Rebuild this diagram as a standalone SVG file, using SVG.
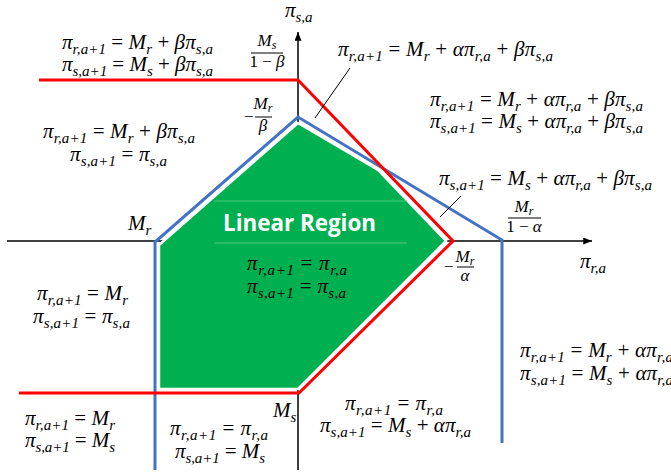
<svg xmlns="http://www.w3.org/2000/svg" width="671" height="474" viewBox="0 0 671 474">
<style>
.m{font-family:"Liberation Serif","DejaVu Serif",serif;font-style:italic;font-size:21px;fill:#000}
.b{font-size:15px}
.u{font-style:normal}
.f{font-family:"Liberation Serif","DejaVu Serif",serif;font-style:italic;font-size:17px;fill:#000}
.fs{font-size:12px}
.ax{stroke:#000;stroke-width:1.5;fill:none}
.fl{stroke:#000;stroke-width:1;fill:none}
.red{stroke:#ff0000;stroke-width:3;fill:none;stroke-linejoin:miter}
.blue{stroke:#4472c4;stroke-width:3;fill:none;stroke-linejoin:miter}
.ld{stroke:#000;stroke-width:1;fill:none}
</style>
<defs>
<marker id="ah" viewBox="0 0 10 8" refX="10" refY="4" markerWidth="9" markerHeight="7" markerUnits="userSpaceOnUse" orient="auto"><path d="M0,0 L10,4 L0,8 z" fill="#000"/></marker>
</defs>
<rect width="671" height="474" fill="#fff"/>

<g id="axes">
<line class="ax" x1="298" y1="470" x2="298" y2="32" marker-end="url(#ah)"/>
<line class="ax" x1="7" y1="241" x2="592" y2="241" marker-end="url(#ah)"/>
</g>

<g id="linear-region">
<polygon points="298,123 378,170 446,241 298,389 159,389 159,245" fill="#00b050" stroke="#fff" stroke-width="2.5" stroke-linejoin="miter"/>
<line x1="214" y1="201" x2="407" y2="201" stroke="#4cc67e" stroke-width="1"/>
<line x1="214" y1="243" x2="407" y2="243" stroke="#4cc67e" stroke-width="1"/>
<text x="223" y="231" font-family="'Open Sans','Liberation Sans',sans-serif" font-weight="bold" font-size="23.5" fill="#fff" textLength="153" lengthAdjust="spacingAndGlyphs">Linear Region</text>
<text class="m" x="247" y="270" textLength="100">π<tspan class="b" dy="5">r,a+1</tspan><tspan class="u" dy="-5"> = </tspan>π<tspan class="b" dy="5">r,a</tspan></text>
<text class="m" x="247" y="293" textLength="99">π<tspan class="b" dy="5">s,a+1</tspan><tspan class="u" dy="-5"> = </tspan>π<tspan class="b" dy="5">s,a</tspan></text>
</g>

<g id="connectors">
<path class="blue" d="M155,470 L155,242 L298,117 L502,240 L502,443"/>
<path class="red" d="M39,80 L298,80 L453,241 L299,393 L19,393"/>
<line class="ld" x1="350" y1="68" x2="315" y2="118"/>
<line class="ld" x1="461" y1="196" x2="440" y2="217"/>
</g>

<g id="axis-labels">
<text class="m" x="285" y="17">π<tspan class="b" dy="5">s,a</tspan></text>
<text class="m" x="580" y="268">π<tspan class="b" dy="5">r,a</tspan></text>
<text class="m" x="128" y="230" font-size="19">M<tspan class="b" dy="5">r</tspan></text>
<text class="m" x="273" y="417" font-size="19">M<tspan class="b" dy="5">s</tspan></text>
</g>

<g id="fractions">
<text class="f" x="267" y="46" text-anchor="middle">M<tspan class="fs" dy="3">s</tspan></text>
<line class="fl" x1="251" y1="53" x2="283" y2="53"/>
<text class="f" x="267" y="67" text-anchor="middle"><tspan class="u">1 − </tspan>β</text>

<text class="f u" x="243" y="122">−</text>
<text class="f" x="263" y="109" text-anchor="middle">M<tspan class="fs" dy="3">r</tspan></text>
<line class="fl" x1="255" y1="117" x2="272" y2="117"/>
<text class="f" x="263" y="131" text-anchor="middle">β</text>

<text class="f" x="524" y="212" text-anchor="middle">M<tspan class="fs" dy="3">r</tspan></text>
<line class="fl" x1="508" y1="218" x2="541" y2="218"/>
<text class="f" x="524" y="232" text-anchor="middle"><tspan class="u">1 − </tspan>α</text>

<text class="f u" x="443" y="272">−</text>
<text class="f" x="465" y="262" text-anchor="middle">M<tspan class="fs" dy="3">r</tspan></text>
<line class="fl" x1="457" y1="267" x2="474" y2="267"/>
<text class="f" x="465" y="281" text-anchor="middle">α</text>
</g>

<g id="region-top-left">
<text class="m" x="62" y="49" textLength="151">π<tspan class="b" dy="5">r,a+1</tspan><tspan class="u" dy="-5"> = </tspan>M<tspan class="b" dy="5">r</tspan><tspan class="u" dy="-5"> + </tspan>βπ<tspan class="b" dy="5">s,a</tspan></text>
<text class="m" x="62" y="71" textLength="151">π<tspan class="b" dy="5">s,a+1</tspan><tspan class="u" dy="-5"> = </tspan>M<tspan class="b" dy="5">s</tspan><tspan class="u" dy="-5"> + </tspan>βπ<tspan class="b" dy="5">s,a</tspan></text>
</g>

<g id="region-top-center">
<text class="m" x="338" y="56" textLength="215">π<tspan class="b" dy="5">r,a+1</tspan><tspan class="u" dy="-5"> = </tspan>M<tspan class="b" dy="5">r</tspan><tspan class="u" dy="-5"> + </tspan>απ<tspan class="b" dy="5">r,a</tspan><tspan class="u" dy="-5"> + </tspan>βπ<tspan class="b" dy="5">s,a</tspan></text>
</g>

<g id="region-top-right">
<text class="m" x="430" y="106" textLength="213">π<tspan class="b" dy="5">r,a+1</tspan><tspan class="u" dy="-5"> = </tspan>M<tspan class="b" dy="5">r</tspan><tspan class="u" dy="-5"> + </tspan>απ<tspan class="b" dy="5">r,a</tspan><tspan class="u" dy="-5"> + </tspan>βπ<tspan class="b" dy="5">s,a</tspan></text>
<text class="m" x="430" y="128" textLength="213">π<tspan class="b" dy="5">s,a+1</tspan><tspan class="u" dy="-5"> = </tspan>M<tspan class="b" dy="5">s</tspan><tspan class="u" dy="-5"> + </tspan>απ<tspan class="b" dy="5">r,a</tspan><tspan class="u" dy="-5"> + </tspan>βπ<tspan class="b" dy="5">s,a</tspan></text>
</g>

<g id="region-right-edge">
<text class="m" x="439" y="185" textLength="213">π<tspan class="b" dy="5">s,a+1</tspan><tspan class="u" dy="-5"> = </tspan>M<tspan class="b" dy="5">s</tspan><tspan class="u" dy="-5"> + </tspan>απ<tspan class="b" dy="5">r,a</tspan><tspan class="u" dy="-5"> + </tspan>βπ<tspan class="b" dy="5">s,a</tspan></text>
</g>

<g id="region-left-upper">
<text class="m" x="43" y="138" textLength="152">π<tspan class="b" dy="5">r,a+1</tspan><tspan class="u" dy="-5"> = </tspan>M<tspan class="b" dy="5">r</tspan><tspan class="u" dy="-5"> + </tspan>βπ<tspan class="b" dy="5">s,a</tspan></text>
<text class="m" x="70" y="161" textLength="97">π<tspan class="b" dy="5">s,a+1</tspan><tspan class="u" dy="-5"> = </tspan>π<tspan class="b" dy="5">s,a</tspan></text>
</g>

<g id="region-left-lower">
<text class="m" x="37" y="300" textLength="91">π<tspan class="b" dy="5">r,a+1</tspan><tspan class="u" dy="-5"> = </tspan>M<tspan class="b" dy="5">r</tspan></text>
<text class="m" x="33" y="323" textLength="97">π<tspan class="b" dy="5">s,a+1</tspan><tspan class="u" dy="-5"> = </tspan>π<tspan class="b" dy="5">s,a</tspan></text>
</g>

<g id="region-bottom-left">
<text class="m" x="25" y="425" textLength="90">π<tspan class="b" dy="5">r,a+1</tspan><tspan class="u" dy="-5"> = </tspan>M<tspan class="b" dy="5">r</tspan></text>
<text class="m" x="25" y="447" textLength="90">π<tspan class="b" dy="5">s,a+1</tspan><tspan class="u" dy="-5"> = </tspan>M<tspan class="b" dy="5">s</tspan></text>
</g>

<g id="region-bottom-center">
<text class="m" x="170" y="435" textLength="98">π<tspan class="b" dy="5">r,a+1</tspan><tspan class="u" dy="-5"> = </tspan>π<tspan class="b" dy="5">r,a</tspan></text>
<text class="m" x="175" y="458" textLength="90">π<tspan class="b" dy="5">s,a+1</tspan><tspan class="u" dy="-5"> = </tspan>M<tspan class="b" dy="5">s</tspan></text>
</g>

<g id="region-bottom-right">
<text class="m" x="345" y="410" textLength="98">π<tspan class="b" dy="5">r,a+1</tspan><tspan class="u" dy="-5"> = </tspan>π<tspan class="b" dy="5">r,a</tspan></text>
<text class="m" x="320" y="432" textLength="151">π<tspan class="b" dy="5">s,a+1</tspan><tspan class="u" dy="-5"> = </tspan>M<tspan class="b" dy="5">s</tspan><tspan class="u" dy="-5"> + </tspan>απ<tspan class="b" dy="5">r,a</tspan></text>
</g>

<g id="region-far-right">
<text class="m" x="520" y="357" textLength="153">π<tspan class="b" dy="5">r,a+1</tspan><tspan class="u" dy="-5"> = </tspan>M<tspan class="b" dy="5">r</tspan><tspan class="u" dy="-5"> + </tspan>απ<tspan class="b" dy="5">r,a</tspan></text>
<text class="m" x="520" y="380" textLength="153">π<tspan class="b" dy="5">s,a+1</tspan><tspan class="u" dy="-5"> = </tspan>M<tspan class="b" dy="5">s</tspan><tspan class="u" dy="-5"> + </tspan>απ<tspan class="b" dy="5">r,a</tspan></text>
</g>
</svg>
